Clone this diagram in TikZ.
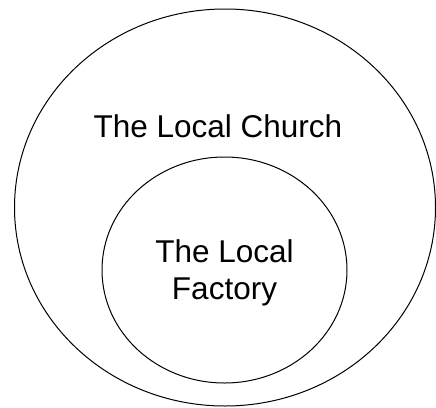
\documentclass[tikz,border=0pt]{standalone}
\usepackage{fontspec}
\setmainfont{Liberation Sans}
\usetikzlibrary{shapes.geometric, positioning}

\begin{document}
\begin{tikzpicture}[
    x=1pt, y=-1pt,
    ring/.style={draw=black, line width=1pt, ellipse, inner sep=0pt},
    label/.style={font=\fontsize{31.5}{36.7}\selectfont, align=center, inner sep=0pt},
]
\useasboundingbox (0, 0) rectangle (436, 407);

% === Outer circle ===
\node[ring, minimum width=421pt, minimum height=397pt] (church) at (225, 207.5) {};
\node[label, anchor=base] (churchtext) at (218, 137) {The Local Church};

% === Inner circle ===
\node[ring, minimum width=245pt, minimum height=226pt] (factory) at (224.5, 270) {};
\node[label, anchor=base] (factorytext) at (224.5, 299) {The Local\\Factory};

\end{tikzpicture}
\end{document}
